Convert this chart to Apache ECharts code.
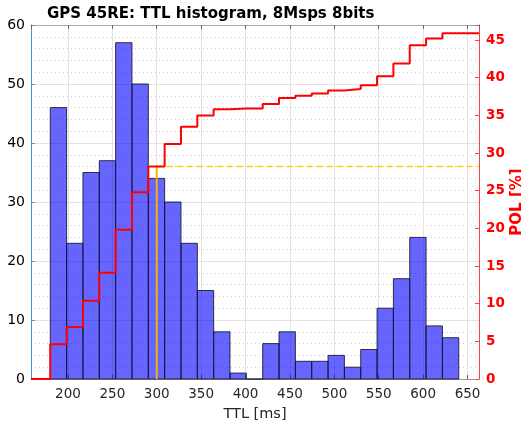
<!DOCTYPE html>
<html>
<head>
<meta charset="utf-8">
<script src="https://cdn.jsdelivr.net/npm/echarts@6/dist/echarts.min.js"></script>
<style>
  html, body { margin: 0; padding: 0; background: #fff; }
  #chart { width: 521px; height: 427px; }
</style>
</head>
<body>
<div id="chart"></div>
<script>
// histogram bins (TTL in ms)
var binStart = 180.1;
var binWidth = 18.4;
var counts = [46, 23, 35, 37, 57, 50, 34, 30, 23, 15, 8, 1, 0, 6, 8, 3, 3, 4, 2, 5, 12, 17, 24, 9, 7];
// POL [%] level over each bin (stairs)
var pol = [4.6, 6.9, 10.4, 14.1, 19.8, 24.8, 28.2, 31.2, 33.5, 35.0, 35.8, 35.9, 35.9, 36.5, 37.3, 37.6, 37.9, 38.3, 38.5, 39.0, 40.2, 41.9, 44.3, 45.2, 45.9];
var xMin = 158.4, xMax = 662.9;
var ttlMark = 300;
var polMark = 28.2;

var font = 'DejaVu Sans';

var histData = counts.map(function(c, i) {
    return [binStart + i * binWidth, binStart + (i + 1) * binWidth, c];
});

var polData = [[xMin, 0]];
pol.forEach(function(v, i) {
    polData.push([binStart + i * binWidth, v]);
});
polData.push([xMax, pol[pol.length - 1]]);

var chart = echarts.init(document.getElementById('chart'));

var option = {
    animation: false,
    backgroundColor: '#fff',
    title: {
        text: 'GPS 45RE: TTL histogram, 8Msps 8bits',
        left: 42,
        top: 2,
        textStyle: { fontFamily: font, fontSize: 15, fontWeight: 'bold', color: '#000' }
    },
    grid: { left: 31, right: 42, top: 25, bottom: 48, containLabel: false, outerBoundsMode: 'none' },
    xAxis: [{
        type: 'value',
        min: xMin,
        max: xMax,
        splitNumber: 10,
        minInterval: 50,
        maxInterval: 50,
        name: 'TTL [ms]',
        nameLocation: 'middle',
        nameGap: 28,
        nameMoveOverlap: false,
        nameTextStyle: { fontFamily: font, fontSize: 14.5, color: '#262626' },
        axisLine: { show: true, onZero: false, lineStyle: { color: '#999', width: 1 } },
        axisTick: { show: true, inside: true, length: 4, lineStyle: { color: '#666' } },
        axisLabel: {
            fontFamily: font, fontSize: 13.5, color: '#262626', margin: 8,
            showMinLabel: false, showMaxLabel: false
        },
        splitLine: { show: true, lineStyle: { color: '#e2e2e2', width: 1 } }
    }, {
        type: 'value',
        position: 'top',
        min: xMin,
        max: xMax,
        splitNumber: 10,
        minInterval: 50,
        maxInterval: 50,
        axisLine: { show: true, onZero: false, lineStyle: { color: '#aaa', width: 1 } },
        axisTick: { show: true, inside: true, length: 4, lineStyle: { color: '#666' } },
        axisLabel: { show: false },
        splitLine: { show: false }
    }],
    yAxis: [{
        type: 'value',
        min: 0,
        max: 60,
        interval: 10,
        axisLine: { show: true, lineStyle: { color: '#3d94d6', width: 1 } },
        axisTick: { show: true, inside: true, length: 4, lineStyle: { color: '#888' } },
        axisLabel: { fontFamily: font, fontSize: 14, color: '#000', margin: 6 },
        splitLine: { show: true, lineStyle: { color: '#e2e2e2', width: 1 } },
        minorTick: { show: false, splitNumber: 5 },
        minorSplitLine: { show: true, lineStyle: { color: '#d0d0d0', type: [1, 3] } }
    }, {
        type: 'value',
        position: 'right',
        min: 0,
        max: 47,
        interval: 5,
        name: 'POL [%]',
        nameLocation: 'middle',
        nameGap: 31,
        nameMoveOverlap: false,
        nameRotate: 90,
        nameTextStyle: { fontFamily: font, fontSize: 15, fontWeight: 'bold', color: '#ff0000' },
        axisLine: { show: true, lineStyle: { color: '#ff4040', width: 1 } },
        axisTick: { show: true, inside: true, length: 4, lineStyle: { color: '#ff4040' } },
        axisLabel: {
            fontFamily: font, fontSize: 13.5, fontWeight: 'bold', color: '#ff0000', margin: 7,
            formatter: function(v) { return v % 5 === 0 ? String(v) : ''; }
        },
        splitLine: { show: false }
    }],
    series: [{
        name: 'count',
        type: 'custom',
        xAxisIndex: 0,
        yAxisIndex: 0,
        data: histData,
        encode: { x: [0, 1], y: 2 },
        z: 2,
        renderItem: function(params, api) {
            var p0 = api.coord([api.value(0), api.value(2)]);
            var p1 = api.coord([api.value(1), 0]);
            return {
                type: 'rect',
                shape: { x: p0[0], y: p0[1], width: p1[0] - p0[0], height: p1[1] - p0[1] },
                style: { fill: 'rgba(0,0,255,0.6)', stroke: 'rgba(20,20,40,0.85)', lineWidth: 1 }
            };
        }
    }, {
        name: 'mark v',
        type: 'line',
        xAxisIndex: 0,
        yAxisIndex: 1,
        data: [[ttlMark, 0], [ttlMark, polMark]],
        symbol: 'none',
        z: 3,
        lineStyle: { color: '#f0b400', width: 2 }
    }, {
        name: 'mark h',
        type: 'line',
        xAxisIndex: 0,
        yAxisIndex: 1,
        data: [[ttlMark, polMark], [xMax, polMark]],
        symbol: 'none',
        z: 3,
        lineStyle: { color: '#ffd000', width: 1.5, type: [6, 4] }
    }, {
        name: 'POL',
        type: 'line',
        xAxisIndex: 0,
        yAxisIndex: 1,
        step: 'end',
        data: polData,
        symbol: 'none',
        z: 4,
        lineStyle: { color: '#ff0000', width: 2 }
    }]
};

chart.setOption(option);
</script>
</body>
</html>
